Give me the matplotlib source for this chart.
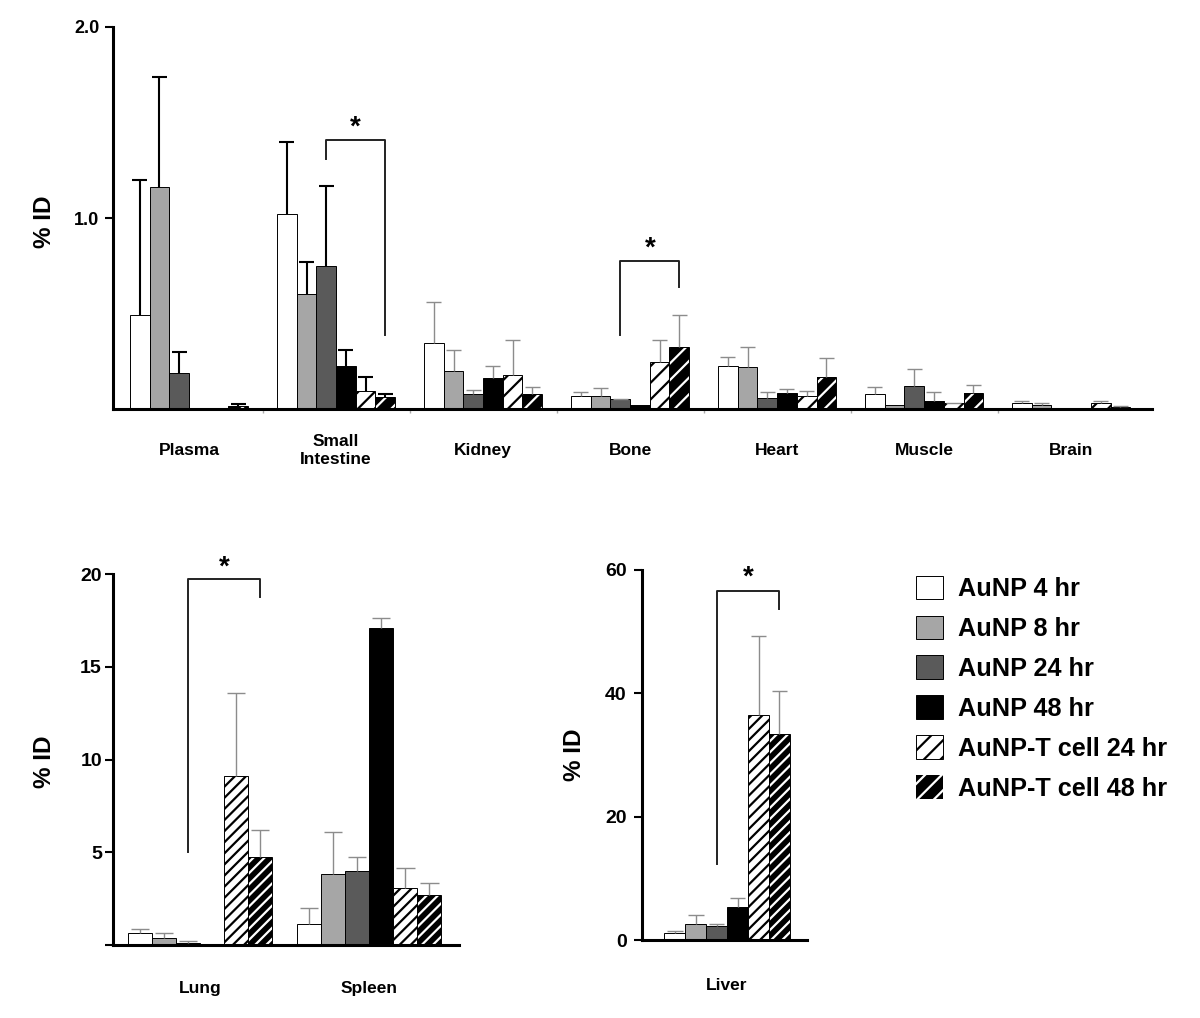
"""Redraw the AuNP / AuNP-T cell biodistribution bar charts (% ID per organ)."""

import matplotlib

matplotlib.use("Agg")
import matplotlib.pyplot as plt
import numpy as np

plt.rcParams["font.family"] = ["Liberation Sans", "DejaVu Sans"]
plt.rcParams["font.weight"] = "bold"
plt.rcParams["axes.labelweight"] = "bold"
plt.rcParams["hatch.linewidth"] = 1.6

SERIES = [
    "AuNP 4 hr",
    "AuNP 8 hr",
    "AuNP 24 hr",
    "AuNP 48 hr",
    "AuNP-T cell 24 hr",
    "AuNP-T cell 48 hr",
]

# top panel: small organs, one list per series (order follows TOP_ORGANS)
TOP_ORGANS = ["Plasma", "Small\nIntestine", "Kidney", "Bone", "Heart", "Muscle", "Brain"]
top_4hr = [0.49, 1.02, 0.345, 0.068, 0.225, 0.078, 0.03]
top_8hr = [1.16, 0.60, 0.20, 0.068, 0.22, 0.02, 0.02]
top_24hr = [0.19, 0.75, 0.08, 0.05, 0.058, 0.12, 0.008]
top_48hr = [0.004, 0.225, 0.16, 0.02, 0.083, 0.04, 0.008]
top_t24hr = [0.003, 0.095, 0.18, 0.245, 0.07, 0.03, 0.03]
top_t48hr = [0.015, 0.065, 0.08, 0.325, 0.168, 0.082, 0.012]

top_4hr_err = [0.71, 0.38, 0.215, 0.022, 0.045, 0.037, 0.01]
top_8hr_err = [0.58, 0.17, 0.11, 0.042, 0.105, 0.0, 0.012]
top_24hr_err = [0.11, 0.42, 0.02, 0.005, 0.032, 0.09, 0.0]
top_48hr_err = [0.0, 0.085, 0.065, 0.0, 0.022, 0.048, 0.0]
top_t24hr_err = [0.0, 0.075, 0.18, 0.115, 0.024, 0.003, 0.01]
top_t48hr_err = [0.01, 0.015, 0.035, 0.165, 0.10, 0.043, 0.004]

# bottom panels: one list per organ, six values in SERIES order
LOWER_ORGANS = ["Lung", "Spleen"]
lung_mean = [0.66, 0.39, 0.09, 0.06, 9.1, 4.73]
lung_err = [0.20, 0.27, 0.11, 0.0, 4.5, 1.45]
spleen_mean = [1.12, 3.81, 3.99, 17.07, 3.05, 2.68]
spleen_err = [0.86, 2.26, 0.74, 0.58, 1.12, 0.66]
liver_mean = [1.08, 2.54, 2.27, 5.4, 36.5, 33.4]
liver_err = [0.38, 1.46, 0.27, 1.46, 12.8, 7.0]

# significance brackets: (organ index, from series, to series, left foot, top, right foot)
top_brackets = [(1, 2, 5, 1.31, 1.41, 0.39), (3, 2, 5, 0.39, 0.775, 0.64)]
lung_bracket = (0, 2, 5, 5.03, 19.75, 18.77)
liver_bracket = (0, 2, 5, 12.4, 56.6, 53.6)

FACE = ["white", "#a6a6a6", "#5a5a5a", "black", "white", "black"]
HATCH_COLOR = [None, None, None, None, "black", "white"]
GRAY_ERR = "#8c8c8c"


def draw_bars(axis, means, errors, width, hatch, err_colors, err_widths):
    """Draw six bars per group with upper-only error whiskers."""

    means = np.asarray(means, dtype=float)
    errors = np.asarray(errors, dtype=float)
    centers = np.arange(means.shape[1])
    handles = []
    for index in range(len(SERIES)):
        x = centers + (index - 2.5) * width
        if HATCH_COLOR[index] is None:
            bars = axis.bar(x, means[index], width, color=FACE[index], edgecolor="black", linewidth=0.7, zorder=2)
        elif HATCH_COLOR[index] == "black":
            bars = axis.bar(x, means[index], width, color="white", edgecolor="black", hatch=hatch, linewidth=0.7, zorder=2)
        else:
            bars = axis.bar(x, means[index], width, color="black", edgecolor="white", hatch=hatch, linewidth=0, zorder=2)
            axis.bar(x, means[index], width, fill=False, edgecolor="black", linewidth=0.7, zorder=2)
        handles.append(bars)

        mask = errors[index] > 0
        tops = means[index] + errors[index]
        colors = [err_colors[j] for j in np.flatnonzero(mask)]
        widths = [err_widths[j] for j in np.flatnonzero(mask)]
        axis.vlines(x[mask], means[index][mask], tops[mask], colors=colors, linewidths=widths, zorder=3)
        axis.hlines(tops[mask], x[mask] - width * 0.38, x[mask] + width * 0.38, colors=colors, linewidths=widths, zorder=3)
    return handles


def draw_bracket(axis, bracket, width, star_offset, star_size=20):
    """Draw a significance bracket between two bars of one group and a star above it."""

    group, first, last, left_foot, top, right_foot = bracket
    x_left = group + (first - 2.5) * width
    x_right = group + (last - 2.5) * width
    axis.plot([x_left, x_left, x_right, x_right], [left_foot, top, top, right_foot], color="#222222", linewidth=1.4, zorder=4)
    axis.text((x_left + x_right) / 2, top + star_offset, "*", ha="center", va="center", fontsize=star_size, fontweight="bold")


def style_axis(axis, labels, label_pad, tick_size):
    """Apply the shared spine and tick styling."""

    for side in ("top", "right"):
        axis.spines[side].set_visible(False)
    for side in ("left", "bottom"):
        axis.spines[side].set_linewidth(2.2)
    axis.set_xticks(range(len(labels)), labels, fontsize=12.5, fontweight="bold")
    axis.tick_params(axis="x", length=0, pad=label_pad)
    for label in axis.get_xticklabels():
        label.set_va("center")
        label.set_linespacing(1.3)
    axis.tick_params(axis="y", direction="out", length=6, width=1.5, labelsize=tick_size, pad=2)


figure = plt.figure(figsize=(12, 10.18), dpi=100)

# top panel
top_axis = figure.add_axes([0.0942, 0.5982, 0.8658, 0.3753])
top_width = 0.134
top_err_colors = ["black", "black"] + [GRAY_ERR] * 5
top_err_widths = [1.5, 1.5] + [1.0] * 5
legend_handles = draw_bars(
    top_axis,
    [top_4hr, top_8hr, top_24hr, top_48hr, top_t24hr, top_t48hr],
    [top_4hr_err, top_8hr_err, top_24hr_err, top_48hr_err, top_t24hr_err, top_t48hr_err],
    top_width,
    "//",
    top_err_colors,
    top_err_widths,
)
for bracket in top_brackets:
    draw_bracket(top_axis, bracket, top_width, 0.065)
top_axis.set_xlim(-0.517, 6.55)
top_axis.set_ylim(0, 2.0)
style_axis(top_axis, TOP_ORGANS, 30, 13)
top_axis.set_yticks([1.0, 2.0], ["1.0", "2.0"])
top_axis.set_xticks(np.arange(len(TOP_ORGANS) - 1) + 0.5, minor=True)
top_axis.tick_params(axis="x", which="minor", length=3, color="#aaaaaa", width=1)
top_axis.tick_params(axis="y", pad=4)
top_axis.set_ylabel("% ID", fontsize=17.5, va="center")
top_axis.yaxis.set_label_coords(-0.0664, 0.49)

# lung and spleen panel
lower_axis = figure.add_axes([0.0942, 0.0717, 0.2883, 0.3644])
lower_width = 0.142
lower_means = np.array([lung_mean, spleen_mean]).T
lower_errors = np.array([lung_err, spleen_err]).T
draw_bars(lower_axis, lower_means, lower_errors, lower_width, "///", [GRAY_ERR] * 2, [1.0] * 2)
draw_bracket(lower_axis, lung_bracket, lower_width, 0.6)
lower_axis.set_xlim(-0.515, 1.53)
lower_axis.set_ylim(0, 20)
style_axis(lower_axis, LOWER_ORGANS, 31, 14)
lower_axis.set_yticks([0, 5, 10, 15, 20], ["", "5", "10", "15", "20"])
lower_axis.set_ylabel("% ID", fontsize=17.5, va="center")
lower_axis.yaxis.set_label_coords(-0.199, 0.493)

# liver panel
liver_axis = figure.add_axes([0.535, 0.0766, 0.1372, 0.3635])
liver_width = 0.14
draw_bars(liver_axis, np.array([liver_mean]).T, np.array([liver_err]).T, liver_width, "///", [GRAY_ERR], [1.0])
draw_bracket(liver_axis, liver_bracket, liver_width, 2.2)
liver_axis.set_xlim(-0.567, 0.531)
liver_axis.set_ylim(0, 60)
style_axis(liver_axis, ["Liver"], 33, 14)
liver_axis.set_yticks([0, 20, 40, 60], ["0", "20", "40", "60"])
liver_axis.tick_params(axis="y", pad=5)
liver_axis.set_ylabel("% ID", fontsize=17.5, va="center")
liver_axis.yaxis.set_label_coords(-0.407, 0.5)

figure.legend(
    legend_handles,
    SERIES,
    loc="upper left",
    bbox_to_anchor=(0.763, 0.4345),
    frameon=False,
    borderpad=0,
    borderaxespad=0,
    handlelength=1.07,
    handleheight=1.07,
    handletextpad=0.6,
    labelspacing=0.57,
    prop={"size": 18.2, "weight": "bold"},
)

figure.savefig("out.png", dpi=100)
